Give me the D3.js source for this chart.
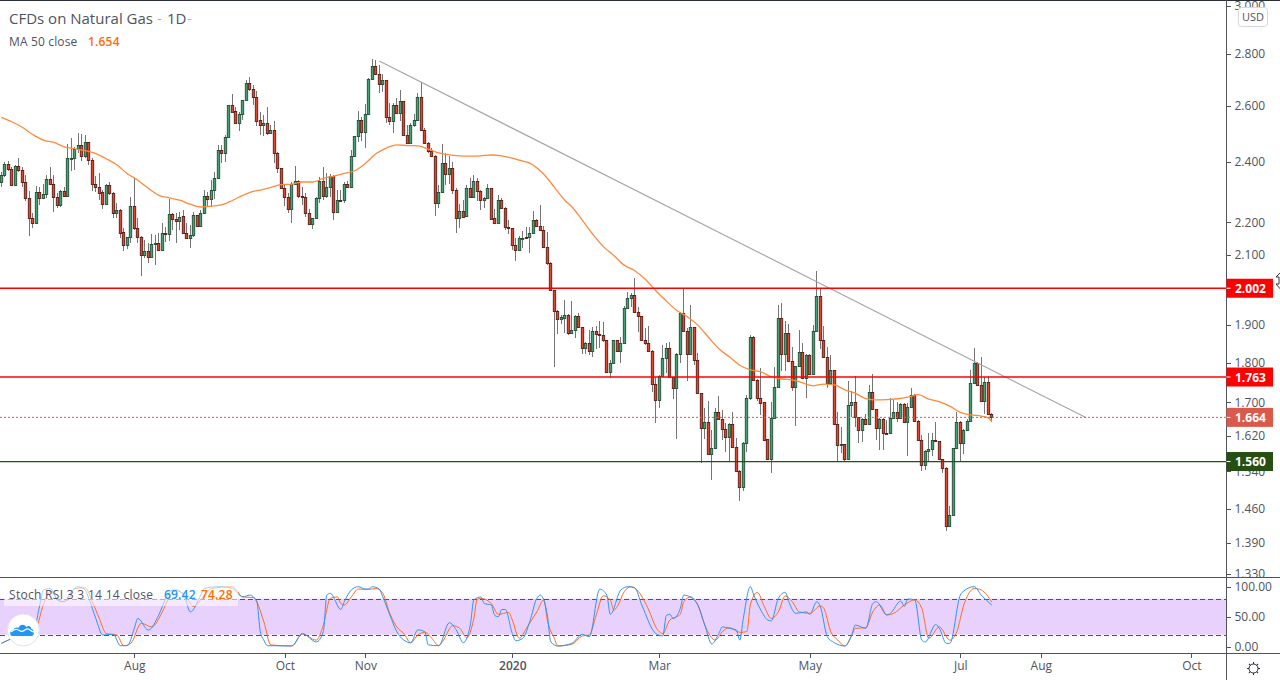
<!DOCTYPE html>
<html>
<head>
<meta charset="utf-8">
<script src="https://cdn.jsdelivr.net/npm/d3@7"></script>
<style>
html, body { margin: 0; padding: 0; background: #fff; overflow: hidden; }
text { font-family: "Open Sans", "Noto Sans", sans-serif; }
</style>
</head>
<body>
<svg id="chart" width="1280" height="680"></svg>
<script>
var opens = [2.332,2.354,2.391,2.374,2.322,2.384,2.370,2.330,2.277,2.213,
2.197,2.297,2.277,2.290,2.340,2.326,2.280,2.254,2.300,2.284,
2.410,2.412,2.444,2.457,2.419,2.467,2.405,2.326,2.313,2.297,
2.260,2.321,2.293,2.231,2.238,2.169,2.129,2.153,2.251,2.182,
2.153,2.101,2.113,2.095,2.132,2.135,2.116,2.166,2.163,2.226,
2.210,2.205,2.219,2.168,2.152,2.161,2.222,2.190,2.229,2.284,
2.276,2.303,2.343,2.439,2.431,2.485,2.602,2.579,2.537,2.571,
2.621,2.685,2.662,2.632,2.546,2.530,2.538,2.501,2.511,2.431,
2.377,2.310,2.280,2.241,2.323,2.336,2.284,2.280,2.229,2.196,
2.213,2.277,2.336,2.284,2.313,2.351,2.234,2.272,2.271,2.323,
2.313,2.419,2.488,2.546,2.505,2.571,2.700,2.751,2.720,2.681,
2.697,2.557,2.545,2.602,2.574,2.617,2.494,2.466,2.528,2.549,
2.632,2.513,2.466,2.436,2.421,2.261,2.297,2.394,2.359,2.377,
2.306,2.215,2.235,2.219,2.310,2.280,2.333,2.300,2.271,2.277,
2.310,2.213,2.197,2.271,2.245,2.184,2.182,2.129,2.116,2.150,
2.154,2.153,2.166,2.206,2.190,2.177,2.123,2.077,1.996,1.939,
1.917,1.919,1.928,1.879,1.887,1.923,1.893,1.839,1.852,1.831,
1.884,1.876,1.871,1.858,1.775,1.798,1.858,1.831,1.852,1.945,
1.973,1.982,1.934,1.923,1.860,1.850,1.831,1.745,1.707,1.765,
1.811,1.839,1.762,1.735,1.823,1.931,1.884,1.823,1.893,1.806,
1.722,1.638,1.652,1.580,1.592,1.676,1.660,1.636,1.617,1.648,
1.594,1.542,1.505,1.605,1.710,1.867,1.756,1.710,1.700,1.613,
1.567,1.663,1.739,1.918,1.823,1.877,1.803,1.738,1.790,1.827,
1.761,1.820,1.771,1.882,1.979,1.860,1.814,1.747,1.781,1.649,
1.599,1.601,1.567,1.693,1.700,1.665,1.635,1.661,1.649,1.726,
1.683,1.638,1.661,1.628,1.627,1.663,1.678,1.663,1.695,1.654,
1.689,1.719,1.656,1.611,1.555,1.586,1.590,1.611,1.608,1.567,
1.548,1.424,1.447,1.592,1.654,1.604,1.635,1.656,1.748,1.799,
1.743,1.703,1.750,1.673];

var highs = [2.366,2.400,2.403,2.383,2.389,2.412,2.383,2.354,2.300,2.229,
2.318,2.313,2.323,2.355,2.381,2.355,2.293,2.304,2.313,2.462,
2.481,2.452,2.499,2.497,2.493,2.470,2.412,2.351,2.362,2.304,
2.326,2.332,2.299,2.261,2.242,2.182,2.153,2.283,2.343,2.213,
2.156,2.145,2.135,2.164,2.161,2.166,2.197,2.187,2.274,2.229,
2.229,2.234,2.239,2.199,2.192,2.234,2.223,2.239,2.304,2.299,
2.337,2.366,2.458,2.458,2.493,2.603,2.644,2.597,2.578,2.622,
2.698,2.709,2.679,2.657,2.578,2.565,2.597,2.529,2.545,2.434,
2.377,2.326,2.293,2.332,2.385,2.337,2.315,2.293,2.242,2.213,
2.283,2.349,2.380,2.362,2.358,2.355,2.306,2.304,2.332,2.335,
2.442,2.489,2.580,2.559,2.607,2.704,2.779,2.776,2.757,2.721,
2.698,2.609,2.609,2.628,2.660,2.619,2.529,2.535,2.571,2.649,
2.691,2.517,2.470,2.446,2.423,2.321,2.462,2.429,2.420,2.400,
2.310,2.259,2.272,2.321,2.343,2.354,2.343,2.304,2.283,2.326,
2.312,2.242,2.288,2.277,2.250,2.208,2.182,2.150,2.156,2.174,
2.184,2.184,2.236,2.212,2.256,2.188,2.170,2.078,1.997,1.940,
1.927,1.969,1.929,1.966,1.927,1.931,1.895,1.854,1.887,1.895,
1.896,1.911,1.908,1.859,1.806,1.860,1.860,1.867,1.951,1.992,
1.987,2.033,1.949,1.924,1.890,1.896,1.832,1.764,1.768,1.845,
1.850,1.854,1.764,1.824,1.936,2.002,1.890,1.954,1.895,1.825,
1.724,1.686,1.703,1.634,1.686,1.716,1.682,1.650,1.651,1.678,
1.615,1.544,1.607,1.717,1.871,1.869,1.757,1.786,1.702,1.614,
1.700,1.789,1.955,1.960,1.911,1.903,1.840,1.792,1.886,1.851,
1.821,1.821,1.899,2.052,2.004,1.897,1.840,1.820,1.782,1.677,
1.642,1.602,1.752,1.729,1.765,1.666,1.662,1.673,1.742,1.771,
1.684,1.662,1.662,1.657,1.710,1.706,1.702,1.698,1.698,1.699,
1.735,1.720,1.657,1.623,1.587,1.627,1.627,1.654,1.609,1.568,
1.549,1.466,1.593,1.677,1.655,1.636,1.661,1.780,1.837,1.801,
1.814,1.762,1.765,1.675];

var lows = [2.315,2.349,2.369,2.318,2.318,2.366,2.313,2.267,2.156,2.182,
2.197,2.256,2.274,2.277,2.321,2.232,2.245,2.250,2.280,2.283,
2.369,2.371,2.429,2.403,2.412,2.389,2.302,2.299,2.272,2.242,
2.258,2.288,2.213,2.213,2.150,2.112,2.119,2.135,2.176,2.135,
2.037,2.090,2.075,2.093,2.070,2.114,2.114,2.140,2.143,2.176,
2.137,2.176,2.166,2.150,2.121,2.153,2.187,2.189,2.227,2.250,
2.250,2.275,2.342,2.394,2.400,2.484,2.575,2.535,2.507,2.547,
2.620,2.657,2.601,2.525,2.493,2.490,2.493,2.499,2.394,2.360,
2.308,2.252,2.229,2.199,2.321,2.277,2.256,2.218,2.194,2.179,
2.210,2.261,2.272,2.277,2.283,2.208,2.232,2.264,2.263,2.312,
2.312,2.415,2.470,2.473,2.448,2.570,2.698,2.717,2.649,2.653,
2.535,2.529,2.501,2.571,2.542,2.492,2.464,2.464,2.523,2.547,
2.511,2.464,2.431,2.420,2.221,2.245,2.293,2.322,2.326,2.291,
2.168,2.182,2.217,2.218,2.277,2.277,2.267,2.239,2.245,2.274,
2.210,2.195,2.195,2.244,2.176,2.164,2.114,2.083,2.114,2.120,
2.147,2.107,2.164,2.188,2.175,2.120,2.069,1.995,1.789,1.874,
1.902,1.878,1.872,1.876,1.865,1.890,1.821,1.821,1.820,1.815,
1.836,1.839,1.854,1.774,1.760,1.797,1.828,1.800,1.851,1.943,
1.949,1.931,1.881,1.858,1.845,1.829,1.726,1.650,1.686,1.764,
1.772,1.761,1.708,1.614,1.798,1.883,1.754,1.821,1.793,1.720,
1.558,1.614,1.579,1.522,1.591,1.658,1.611,1.584,1.563,1.592,
1.540,1.477,1.498,1.583,1.705,1.754,1.704,1.669,1.610,1.565,
1.536,1.685,1.738,1.777,1.777,1.801,1.727,1.644,1.788,1.758,
1.712,1.769,1.769,1.881,1.836,1.813,1.735,1.746,1.648,1.562,
1.581,1.564,1.565,1.665,1.642,1.605,1.607,1.647,1.648,1.681,
1.611,1.589,1.589,1.625,1.625,1.661,1.653,1.661,1.652,1.575,
1.688,1.655,1.610,1.540,1.544,1.564,1.574,1.607,1.565,1.537,
1.415,1.423,1.446,1.590,1.564,1.580,1.633,1.655,1.747,1.741,
1.702,1.671,1.671,1.654];

var closes = [2.354,2.391,2.374,2.322,2.384,2.370,2.330,2.277,2.213,2.197,
2.297,2.277,2.290,2.340,2.325,2.280,2.254,2.300,2.284,2.412,
2.413,2.444,2.457,2.419,2.467,2.405,2.326,2.313,2.296,2.260,
2.321,2.293,2.231,2.238,2.168,2.129,2.153,2.251,2.182,2.153,
2.101,2.113,2.095,2.132,2.135,2.116,2.166,2.163,2.226,2.210,
2.205,2.218,2.168,2.152,2.161,2.222,2.190,2.229,2.284,2.276,
2.303,2.343,2.439,2.431,2.485,2.602,2.578,2.537,2.571,2.621,
2.685,2.662,2.632,2.545,2.530,2.537,2.501,2.511,2.431,2.377,
2.310,2.280,2.241,2.323,2.336,2.284,2.280,2.229,2.196,2.213,
2.277,2.336,2.284,2.313,2.351,2.234,2.271,2.270,2.323,2.313,
2.419,2.488,2.547,2.505,2.571,2.700,2.751,2.720,2.681,2.697,
2.557,2.545,2.602,2.574,2.617,2.494,2.466,2.528,2.549,2.632,
2.512,2.466,2.436,2.421,2.261,2.297,2.394,2.359,2.379,2.306,
2.215,2.235,2.218,2.310,2.280,2.333,2.300,2.271,2.277,2.310,
2.212,2.197,2.271,2.245,2.184,2.181,2.129,2.116,2.150,2.152,
2.151,2.166,2.206,2.190,2.177,2.123,2.077,1.996,1.939,1.917,
1.920,1.928,1.879,1.887,1.923,1.893,1.839,1.852,1.831,1.884,
1.876,1.871,1.858,1.775,1.798,1.858,1.831,1.852,1.945,1.973,
1.982,1.934,1.923,1.860,1.850,1.831,1.745,1.707,1.765,1.811,
1.839,1.762,1.735,1.823,1.931,1.884,1.823,1.893,1.806,1.722,
1.638,1.652,1.580,1.592,1.676,1.660,1.636,1.617,1.648,1.594,
1.542,1.505,1.605,1.710,1.866,1.756,1.710,1.699,1.611,1.567,
1.663,1.739,1.918,1.823,1.877,1.803,1.738,1.790,1.827,1.761,
1.820,1.771,1.884,1.979,1.860,1.814,1.747,1.781,1.649,1.599,
1.601,1.567,1.693,1.700,1.665,1.635,1.661,1.649,1.726,1.683,
1.638,1.661,1.627,1.626,1.663,1.678,1.663,1.695,1.654,1.689,
1.719,1.656,1.611,1.555,1.586,1.590,1.611,1.608,1.567,1.548,
1.424,1.447,1.592,1.654,1.604,1.635,1.656,1.748,1.799,1.743,
1.703,1.750,1.673,1.664];

// 50 day average, read every few candles
var maBars = [0,3,6,9,12,15,18,21,24,27,30,33,36,39,42,45,48,51,54,57,60,63,66,69,72,74,
77,80,83,86,89,92,95,98,101,104,107,110,113,116,119,122,125,128,131,134,137,140,143,146,148,
151,155,158,161,163,166,169,172,175,178,181,184,187,190,193,196,199,202,205,208,211,214,
217,220,223,226,229,232,235,238,241,244,247,250,253,256,259,262,265,268,271,274,277,280,282,283];
var maValues = [2.557,2.541,2.521,2.495,2.475,2.467,2.451,2.444,2.438,2.428,2.410,2.389,2.359,2.337,2.310,2.287,2.279,2.271,2.258,2.249,2.252,2.256,2.270,2.287,2.300,2.304,
2.313,2.322,2.324,2.331,2.331,2.343,2.351,2.360,2.369,2.394,2.427,2.447,2.458,2.456,2.455,2.443,2.430,2.423,2.420,2.419,2.420,2.423,2.420,2.412,2.405,
2.395,2.357,2.314,2.271,2.250,2.207,2.163,2.125,2.098,2.069,2.053,2.028,1.995,1.966,1.939,1.922,1.899,1.867,1.836,1.815,1.793,1.781,
1.776,1.764,1.758,1.756,1.748,1.741,1.745,1.743,1.731,1.723,1.709,1.706,1.707,1.709,1.713,1.719,1.708,1.702,1.691,1.676,1.670,1.667,1.663,1.654];

var kBars = [0,2,5,9,11,12,14,16,18,20,22,24,25,27,29,32,34,36,38,39,42,45,47,49,52,54,57,58,62,66,69,71,73,74,75,76,83,86,90,92,93,94,
97,98,100,102,104,105,106,108,109,111,113,115,117,119,121,122,125,128,130,132,134,135,137,138,140,141,142,143,144,146,147,149,151,153,154,156,157,159,163,166,168,171,173,174,177,179,181,183,187,189,190,191,192,
194,195,196,199,201,203,205,206,208,210,211,212,214,215,217,219,220,222,224,225,227,230,231,233,234,236,238,241,243,244,247,249,250,253,254,257,258,259,261,263,264,267,268,270,271,274,275,278,280,283];
var kValues = [5.6,11,19.5,22,69.5,94.5,97,78,75,92,100,94.5,80.6,47,19.5,20.6,1.7,1.7,30.6,47,27.8,53,80.6,94.5,89,58,86,97,100,97,83,86,75,25,11,1.7,1.2,22,8,25,86,89,
62,75,94.5,100,96,96,100,96,83,53,25,11,6.7,28,25,3,1.7,40,28,6.7,36,78,83,72,69.5,52,50,62,62,22,10,14,42,80.6,86,53,8,1.2,5.6,20.6,16.7,96,86,54,94.5,100,98,69.5,22,18,52,54,47,
64,86,85,69.5,36,4.5,22,33,30.6,28,11,47,100,86,61,44.5,43,80.6,90.6,75,55.6,58,54,75,67,16.7,6.7,1.2,19.5,36,30.6,72,75,53,55.6,76,67,79.5,78,11,8,37,30.6,5.6,5.6,86,93,100,86,69.42];

var dBars = [0,2,5,9,10,12,14,17,19,21,24,26,28,30,33,35,37,40,43,46,48,50,53,55,58,60,66,69,72,75,77,83,86,90,92,94,96,
97,98,100,102,105,107,109,111,113,115,117,119,121,123,125,126,129,131,133,135,136,137,140,142,145,146,148,150,153,155,156,158,159,163,166,168,170,172,174,175,176,178,180,182,185,187,189,191,193,
194,195,197,199,201,204,206,208,211,213,214,216,218,220,222,224,226,228,231,234,235,237,239,241,243,244,247,249,251,253,255,258,261,263,265,268,271,273,275,278,280,283];
var dValues = [5.6,11,17,22,30.6,69.5,92,75,78,97,98,75,47,22,19.5,1.7,5.6,39,33,58,83,94.5,80.6,67,86,97,100,83,82,42,3,1.2,21,11,36,80.6,83,
72,69.5,83,96,95.6,97,89,55.6,33,22,6.7,19.5,24,14,1.7,8,35,30.6,15,47,79.5,80.6,72,54,57,44.5,14,30.6,58,78,44.5,14,1.2,4,18,19.5,53,85,78,61,67,92,100,92,61,33,22,44.5,50,
54,75,83,69.5,36,11,25,31.7,24,25,69.5,90.6,67,47,58,84.5,75,58,55.6,68,64,25,11,1.2,19.5,30.6,31.7,58,69.5,53,55.6,69.5,78,64,14,33,11,25,69.5,97,94.5,74.28];

var priceTicks = [3.0, 2.8, 2.6, 2.4, 2.2, 2.1, 2.0, 1.9, 1.8, 1.7, 1.62, 1.54, 1.46, 1.39, 1.33];
var stochTicks = [100, 50, 0];
var timeBars = [38, 81, 104, 146, 188, 231, 274, 297, 340];
var timeLabels = ["Aug", "Oct", "Nov", "2020", "Mar", "May", "Jul", "Aug", "Oct"];
var levelPrices = [2.002, 1.763, 1.664, 1.562];
var levelLabels = ["2.002", "1.763", "1.664", "1.560"];
var levelColors = ["#ff0000", "#ff0000", "#d9594a", "#274e13"];
var trendBars = [108, 310];
var trendPrices = [2.772, 1.663];

var axisX = 1226.5, paneTop = 577.5, paneBottom = 653.5;
var textColor = "#50535e";

var svg = d3.select("#chart");
var x = d3.scaleLinear().domain([0, 283]).range([1.3, 991.8]);
var y = d3.scaleLog().domain([2.8, 1.39]).range([54, 543]);
var yStoch = d3.scaleLinear().domain([0, 100]).range([646.7, 586.7]);

// stoch rsi band goes under everything
svg.append("rect")
    .attr("x", 0).attr("width", axisX)
    .attr("y", yStoch(80)).attr("height", yStoch(20) - yStoch(80))
    .attr("fill", "#e9d1fd");
[80, 20].forEach(function(v) {
    svg.append("line")
        .attr("x1", 0).attr("x2", axisX)
        .attr("y1", Math.round(yStoch(v)) + 0.5).attr("y2", Math.round(yStoch(v)) + 0.5)
        .attr("stroke", "#50535e")
        .attr("stroke-dasharray", "5 3");
});

// candles
var candles = d3.range(opens.length).map(function(i) {
    return { i: i, o: opens[i], h: highs[i], l: lows[i], c: closes[i] };
});
var candle = svg.append("g").selectAll("g")
    .data(candles)
    .enter().append("g")
    .attr("transform", function(d) { return "translate(" + Math.floor(x(d.i)) + ",0)"; });

candle.append("line")
    .attr("x1", 0.5).attr("x2", 0.5)
    .attr("y1", function(d) { return y(d.h); })
    .attr("y2", function(d) { return y(d.l); })
    .attr("stroke", "#757575")
    .attr("shape-rendering", "crispEdges");

// body is a bit wider than 3px so the fill still shows inside the border
candle.append("rect")
    .attr("x", -0.7)
    .attr("width", 2.4)
    .attr("y", function(d) { return Math.round(y(Math.max(d.o, d.c))) + 0.5; })
    .attr("height", function(d) {
        return Math.max(1, Math.round(y(Math.min(d.o, d.c))) - Math.round(y(Math.max(d.o, d.c))));
    })
    .attr("fill", function(d) { return d.c >= d.o ? "#45a078" : "#de4530"; })
    .attr("stroke", function(d) { return d.c >= d.o ? "#1f4f33" : "#5c1a12"; })
    .attr("stroke-width", 0.9);

// moving average
var maLine = d3.line()
    .x(function(d) { return x(d[0]); })
    .y(function(d) { return y(d[1]); })
    .curve(d3.curveMonotoneX);
svg.append("path")
    .attr("d", maLine(d3.zip(maBars, maValues)))
    .attr("fill", "none")
    .attr("stroke", "#ff8a3c")
    .attr("stroke-width", 1.3);

// trend line
svg.append("line")
    .attr("x1", x(trendBars[0])).attr("y1", y(trendPrices[0]))
    .attr("x2", x(trendBars[1])).attr("y2", y(trendPrices[1]))
    .attr("stroke", "#a6a6a6")
    .attr("stroke-width", 1.2);

// horizontal levels
levelPrices.forEach(function(p, i) {
    svg.append("line")
        .attr("x1", 0).attr("x2", axisX)
        .attr("y1", y(p)).attr("y2", y(p))
        .attr("stroke", levelColors[i])
        .attr("stroke-width", p == 1.664 ? 1 : 1.3)
        .attr("stroke-dasharray", p == 1.664 ? "2 2" : null);
});

// stoch lines
var stochLine = d3.line()
    .x(function(d) { return x(d[0]); })
    .y(function(d) { return yStoch(d[1]); })
    .curve(d3.curveMonotoneX);
svg.append("path")
    .attr("d", stochLine(d3.zip(dBars, dValues)))
    .attr("fill", "none").attr("stroke", "#ff6d1f").attr("stroke-width", 1);
svg.append("path")
    .attr("d", stochLine(d3.zip(kBars, kValues)))
    .attr("fill", "none").attr("stroke", "#2e95f5").attr("stroke-width", 1);

// axes
svg.append("clipPath").attr("id", "priceClip")
    .append("rect").attr("x", axisX).attr("y", 0).attr("width", 60).attr("height", paneTop);

function styleAxis(g) {
    g.select(".domain").remove();
    g.selectAll("line").attr("stroke", textColor).attr("shape-rendering", "crispEdges");
    g.selectAll("text").attr("fill", textColor).attr("font-size", 12);
}

svg.append("g")
    .attr("clip-path", "url(#priceClip)")
    .append("g")
    .attr("transform", "translate(" + axisX + ",0)")
    .call(d3.axisRight(y).tickValues(priceTicks).tickFormat(d3.format(".3f")).tickSize(4).tickPadding(4))
    .call(styleAxis);

svg.append("g")
    .attr("transform", "translate(" + axisX + ",0)")
    .call(d3.axisRight(yStoch).tickValues(stochTicks).tickFormat(d3.format(".2f")).tickSize(4).tickPadding(4))
    .call(styleAxis);

svg.append("g")
    .attr("transform", "translate(0," + paneBottom + ")")
    .call(d3.axisBottom(x).tickValues(timeBars)
        .tickFormat(function(d, i) { return timeLabels[i]; }).tickSize(4).tickPadding(4))
    .call(styleAxis)
    .selectAll("text")
    .attr("font-weight", function(d, i) { return timeLabels[i] == "2020" ? 600 : null; });

// frame
[[0, 0.5, 1280, 0.5, "#2a2e39"], [0, paneTop, 1280, paneTop, textColor],
 [0, paneBottom, 1280, paneBottom, textColor], [axisX, 0, axisX, 680, textColor]].forEach(function(s) {
    svg.append("line")
        .attr("x1", s[0]).attr("y1", s[1]).attr("x2", s[2]).attr("y2", s[3])
        .attr("stroke", s[4]);
});

// price labels on the axis
levelPrices.forEach(function(p, i) {
    var ly = y(p);
    svg.append("rect")
        .attr("x", axisX).attr("y", ly - 9.5)
        .attr("width", 46.5).attr("height", 19)
        .attr("fill", levelColors[i]);
    svg.append("line")
        .attr("x1", axisX).attr("x2", axisX + 4)
        .attr("y1", ly).attr("y2", ly)
        .attr("stroke", "#fff");
    svg.append("text")
        .attr("x", axisX + 8.5).attr("y", ly + 4.5)
        .attr("font-size", 12).attr("font-weight", 700)
        .attr("fill", "#fff")
        .text(levelLabels[i]);
});

// currency box
svg.append("rect")
    .attr("x", 1238.5).attr("y", 7.5).attr("width", 29).attr("height", 19).attr("rx", 3)
    .attr("fill", "#fff").attr("stroke", "#d6d8de");
svg.append("text")
    .attr("x", 1253).attr("y", 21)
    .attr("text-anchor", "middle").attr("font-size", 11).attr("fill", textColor)
    .text("USD");

// legends
svg.append("text").attr("x", 9).attr("y", 24)
    .attr("font-size", 15).attr("fill", textColor).text("CFDs on Natural Gas");
svg.append("text").attr("x", 157).attr("y", 24)
    .attr("font-size", 15).attr("fill", "#b2b5be").text("-");
svg.append("text").attr("x", 167).attr("y", 24)
    .attr("font-size", 15).attr("fill", textColor).text("1D");
svg.append("text").attr("x", 187).attr("y", 24)
    .attr("font-size", 15).attr("fill", "#b2b5be").text("-");
svg.append("text").attr("x", 9).attr("y", 46)
    .attr("font-size", 12).attr("letter-spacing", 0.15).attr("fill", textColor).text("MA 50 close");
svg.append("text").attr("x", 88).attr("y", 46)
    .attr("font-size", 12).attr("font-weight", 600).attr("letter-spacing", 0.2).attr("fill", "#ff6d00").text("1.654");

svg.append("rect")
    .attr("x", 4).attr("y", 586).attr("width", 234).attr("height", 20)
    .attr("fill", "#fff").attr("fill-opacity", 0.55);
svg.append("text").attr("x", 9).attr("y", 599)
    .attr("font-size", 12).attr("letter-spacing", 0.3).attr("fill", textColor).text("Stoch RSI 3 3 14 14 close");
svg.append("text").attr("x", 164).attr("y", 599)
    .attr("font-size", 12).attr("font-weight", 600).attr("letter-spacing", 0.2).attr("fill", "#2196f3").text("69.42");
svg.append("text").attr("x", 201).attr("y", 599)
    .attr("font-size", 12).attr("font-weight", 600).attr("letter-spacing", 0.2).attr("fill", "#ff6d00").text("74.28");

// logo
var logo = svg.append("g").attr("transform", "translate(23.3,630)");
logo.append("circle").attr("r", 16).attr("fill", "#fff").attr("stroke", "#e4e4e8");
logo.append("path")
    .attr("d", "M-11,6 C-14,6 -14,0 -10,0 C-9,-3 -6,-3 -5,-2 C-3,-6 1,-6 3,-3 C5,-5 8,-4 8,-1 C11,-1 12,6 8,6 Z")
    .attr("fill", "#2196f3");
logo.append("path")
    .attr("d", "M-12,2 C-9,-2 -6,-1 -3,1 C0,3 2,-2 5,-1 C7,0 9,2 11,2")
    .attr("fill", "none").attr("stroke", "#fff").attr("stroke-width", 1.3);

// settings icon
var gear = svg.append("g").attr("transform", "translate(1253.5,668.5)");
gear.append("circle").attr("r", 4.5).attr("fill", "none").attr("stroke", "#2a2e39");
d3.range(8).forEach(function(k) {
    gear.append("line")
        .attr("y1", -4.5).attr("y2", -6.5)
        .attr("transform", "rotate(" + k * 45 + ")")
        .attr("stroke", "#2a2e39");
});

// mouse cursor at the right edge
svg.append("path")
    .attr("d", "M1283,270 L1276,277 L1279,277 L1279,284 L1276,284 L1283,292 Z")
    .attr("fill", "#fff").attr("stroke", "#333");
</script>
</body>
</html>
